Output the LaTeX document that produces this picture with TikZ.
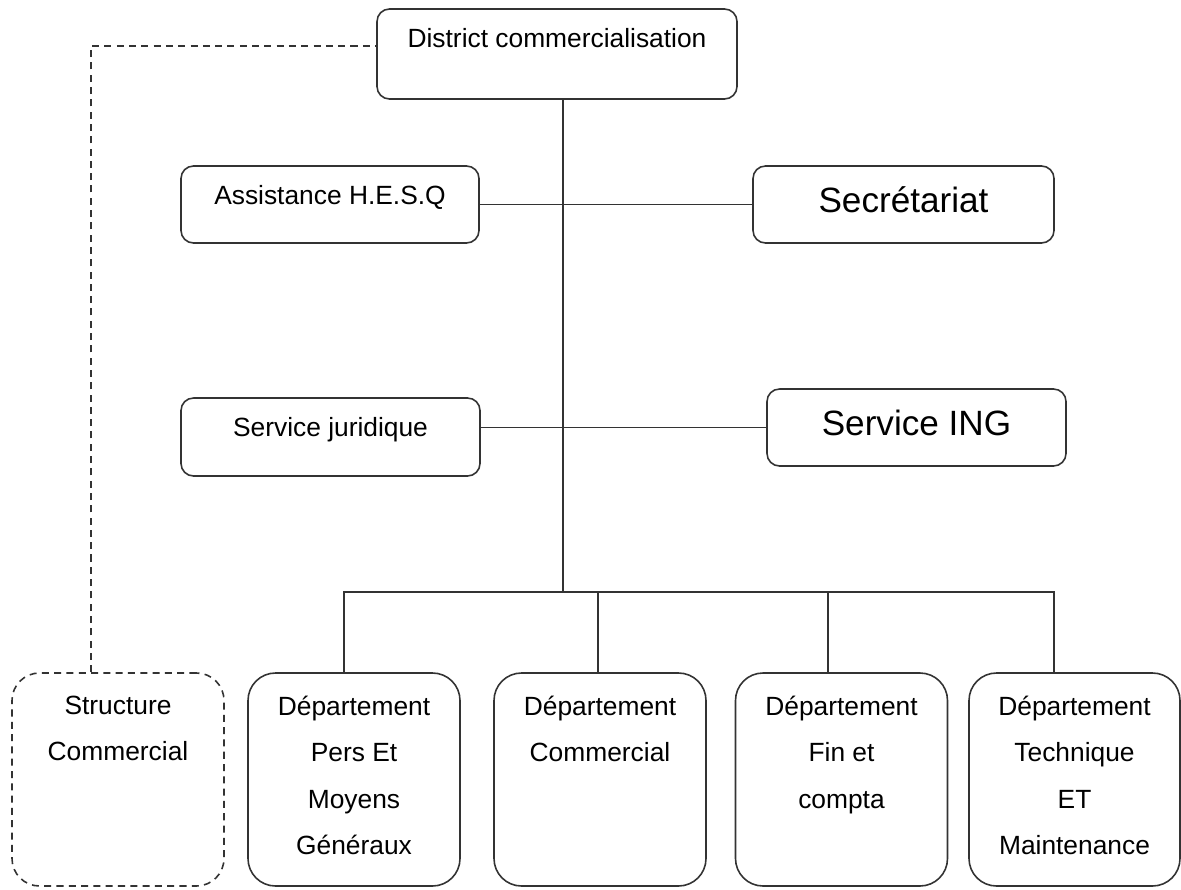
\documentclass[tikz,border=0pt]{standalone}
\usepackage{fontspec}
\setmainfont{Liberation Sans}
\begin{document}
\begin{tikzpicture}[
  line width=0.9pt,
  boite/.style={draw=black!80, rounded corners=0.25cm, minimum height=1.54cm},
  dept/.style={draw=black!80, rounded corners=0.55cm, minimum width=4.24cm, minimum height=4.26cm},
  pointille/.style={dash pattern=on 4pt off 3pt},
  lbl/.style={anchor=north, inner sep=0pt, yshift=-0.38cm, align=center, font=\fontsize{15}{26}\selectfont},
  biglbl/.style={anchor=north, inner sep=0pt, yshift=-0.42cm, font=\fontsize{20}{24}\selectfont},
  deptlbl/.style={anchor=north, inner sep=0pt, yshift=-0.47cm, align=center, font=\fontsize{15}{26.2}\selectfont}
]
\useasboundingbox (0,0) rectangle (23.62,-17.78);
% direction et services rattaches
\node[boite, minimum width=7.2cm, minimum height=1.8cm, label={[lbl]north:District commercialisation}] (dist) at (11.14,-1.08) {};
\node[boite, minimum width=5.96cm, label={[lbl]north:Assistance H.E.S.Q}] (hesq) at (6.60,-4.09) {};
\node[boite, minimum width=6.02cm, label={[biglbl]north:Secrétariat}] (secr) at (18.07,-4.09) {};
\node[boite, minimum width=5.98cm, minimum height=1.56cm, label={[lbl]north:Service juridique}] (jur) at (6.61,-8.74) {};
\node[boite, minimum width=5.98cm, label={[biglbl]north:Service ING}] (ing) at (18.33,-8.55) {};
% departements
\node[dept, pointille, label={[deptlbl]north:{Structure\\Commercial}}] (struct) at (2.36,-15.59) {};
\node[dept, label={[deptlbl]north:{Département\\Pers Et\\Moyens\\Généraux}}] (dpers) at (7.08,-15.59) {};
\node[dept, label={[deptlbl]north:{Département\\Commercial}}] (dcom) at (12.00,-15.59) {};
\node[dept, label={[deptlbl]north:{Département\\Fin et\\compta}}] (dfin) at (16.83,-15.59) {};
\node[dept, minimum width=4.22cm, label={[deptlbl]north:{Département\\Technique\\ET\\Maintenance}}] (dtech) at (21.49,-15.59) {};
% liaisons
\coordinate (bus) at (11.26,-11.84);
\draw[black!80] (dist.south -| bus) -- (bus);
\draw[black!80] (hesq) -- (secr);
\draw[black!80] (jur.east |- ing.west) -- (ing.west);
\foreach \n/\s in {dpers/-0.2, dcom/-0.04, dfin/-0.27, dtech/-0.41}
  \draw[black!80] ([xshift=\s cm]\n.north) |- (bus);
\draw[black!80, pointille] ([xshift=-0.54cm]struct.north) |- ([yshift=0.16cm]dist.west);
\end{tikzpicture}
\end{document}
